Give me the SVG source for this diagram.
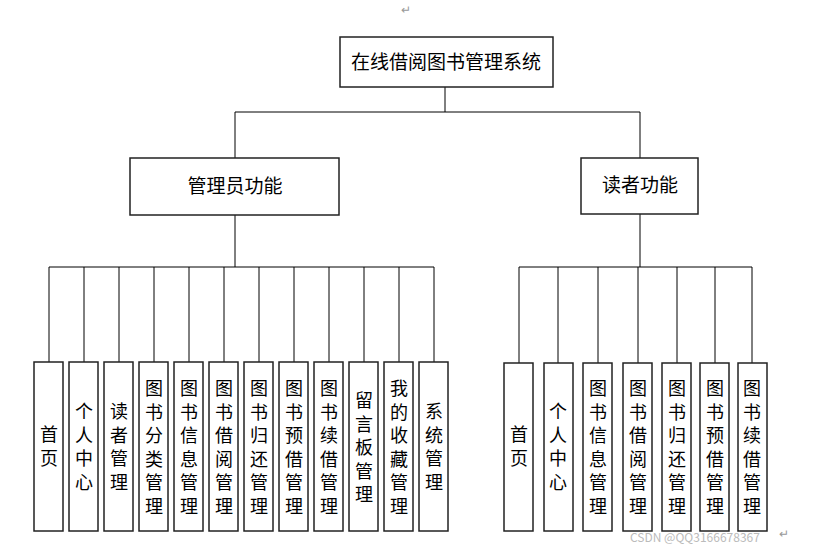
<svg xmlns="http://www.w3.org/2000/svg" width="815" height="553" viewBox="0 0 815 553">
<style>
rect{fill:#fff;stroke:#222;stroke-width:1.5}
text{font-family:"Noto Sans CJK SC","Liberation Sans",sans-serif;fill:#000}
.t{font-size:19px;text-anchor:middle}
.l{font-size:18px;text-anchor:middle}
.c path{stroke:#000;stroke-width:1;fill:none}
.w{font-size:12px;fill:#bbb}
</style>
<rect width="815" height="553" style="fill:#fff;stroke:none"/>
<text x="401" y="14" class="w" style="fill:#999">↵</text>
<g class="c" id="connectors">
<path d="M445 87V112M235 112H640M235 112V158M640 112V158"/>
<path d="M235 215V267M49 267H434M49 267V362M84 267V362M119 267V362M154 267V362M189 267V362M224 267V362M259 267V362M294 267V362M329 267V362M364 267V362M399 267V362M434 267V362"/>
<path d="M640 214V267M519 267H752M519 267V363M558 267V363M598 267V363M638 267V363M677 267V363M715 267V363M752 267V363"/>
</g>
<g id="root"><rect x="340" y="37" width="213" height="50"/><text class="t" x="446" y="69">在线借阅图书管理系统</text></g>
<g id="admin"><rect x="130" y="158" width="209" height="57"/><text class="t" x="235" y="193">管理员功能</text></g>
<g id="reader"><rect x="581" y="158" width="117" height="56"/><text class="t" x="640" y="192">读者功能</text></g>
<g id="a1"><rect x="34" y="362" width="29" height="169"/><text class="l" x="49" y="441"><tspan x="49">首</tspan><tspan x="49" dy="23.5">页</tspan></text></g>
<g id="a2"><rect x="69" y="362" width="29" height="169"/><text class="l" x="84" y="418"><tspan x="84">个</tspan><tspan x="84" dy="23.5">人</tspan><tspan x="84" dy="23.5">中</tspan><tspan x="84" dy="23.5">心</tspan></text></g>
<g id="a3"><rect x="104" y="362" width="29" height="169"/><text class="l" x="119" y="418"><tspan x="119">读</tspan><tspan x="119" dy="23.5">者</tspan><tspan x="119" dy="23.5">管</tspan><tspan x="119" dy="23.5">理</tspan></text></g>
<g id="a4"><rect x="139" y="362" width="29" height="169"/><text class="l" x="154" y="395"><tspan x="154">图</tspan><tspan x="154" dy="23.5">书</tspan><tspan x="154" dy="23.5">分</tspan><tspan x="154" dy="23.5">类</tspan><tspan x="154" dy="23.5">管</tspan><tspan x="154" dy="23.5">理</tspan></text></g>
<g id="a5"><rect x="174" y="362" width="29" height="169"/><text class="l" x="189" y="395"><tspan x="189">图</tspan><tspan x="189" dy="23.5">书</tspan><tspan x="189" dy="23.5">信</tspan><tspan x="189" dy="23.5">息</tspan><tspan x="189" dy="23.5">管</tspan><tspan x="189" dy="23.5">理</tspan></text></g>
<g id="a6"><rect x="209" y="362" width="29" height="169"/><text class="l" x="224" y="395"><tspan x="224">图</tspan><tspan x="224" dy="23.5">书</tspan><tspan x="224" dy="23.5">借</tspan><tspan x="224" dy="23.5">阅</tspan><tspan x="224" dy="23.5">管</tspan><tspan x="224" dy="23.5">理</tspan></text></g>
<g id="a7"><rect x="244" y="362" width="29" height="169"/><text class="l" x="259" y="395"><tspan x="259">图</tspan><tspan x="259" dy="23.5">书</tspan><tspan x="259" dy="23.5">归</tspan><tspan x="259" dy="23.5">还</tspan><tspan x="259" dy="23.5">管</tspan><tspan x="259" dy="23.5">理</tspan></text></g>
<g id="a8"><rect x="279" y="362" width="29" height="169"/><text class="l" x="294" y="395"><tspan x="294">图</tspan><tspan x="294" dy="23.5">书</tspan><tspan x="294" dy="23.5">预</tspan><tspan x="294" dy="23.5">借</tspan><tspan x="294" dy="23.5">管</tspan><tspan x="294" dy="23.5">理</tspan></text></g>
<g id="a9"><rect x="314" y="362" width="29" height="169"/><text class="l" x="329" y="395"><tspan x="329">图</tspan><tspan x="329" dy="23.5">书</tspan><tspan x="329" dy="23.5">续</tspan><tspan x="329" dy="23.5">借</tspan><tspan x="329" dy="23.5">管</tspan><tspan x="329" dy="23.5">理</tspan></text></g>
<g id="a10"><rect x="349" y="362" width="29" height="169"/><text class="l" x="364" y="407"><tspan x="364">留</tspan><tspan x="364" dy="23.5">言</tspan><tspan x="364" dy="23.5">板</tspan><tspan x="364" dy="23.5">管</tspan><tspan x="364" dy="23.5">理</tspan></text></g>
<g id="a11"><rect x="384" y="362" width="29" height="169"/><text class="l" x="399" y="395"><tspan x="399">我</tspan><tspan x="399" dy="23.5">的</tspan><tspan x="399" dy="23.5">收</tspan><tspan x="399" dy="23.5">藏</tspan><tspan x="399" dy="23.5">管</tspan><tspan x="399" dy="23.5">理</tspan></text></g>
<g id="a12"><rect x="419" y="362" width="29" height="169"/><text class="l" x="434" y="418"><tspan x="434">系</tspan><tspan x="434" dy="23.5">统</tspan><tspan x="434" dy="23.5">管</tspan><tspan x="434" dy="23.5">理</tspan></text></g>
<g id="r1"><rect x="504" y="363" width="29" height="168"/><text class="l" x="519" y="441"><tspan x="519">首</tspan><tspan x="519" dy="23.5">页</tspan></text></g>
<g id="r2"><rect x="544" y="363" width="29" height="168"/><text class="l" x="558" y="418"><tspan x="558">个</tspan><tspan x="558" dy="23.5">人</tspan><tspan x="558" dy="23.5">中</tspan><tspan x="558" dy="23.5">心</tspan></text></g>
<g id="r3"><rect x="583" y="363" width="29" height="168"/><text class="l" x="598" y="395"><tspan x="598">图</tspan><tspan x="598" dy="23.5">书</tspan><tspan x="598" dy="23.5">信</tspan><tspan x="598" dy="23.5">息</tspan><tspan x="598" dy="23.5">管</tspan><tspan x="598" dy="23.5">理</tspan></text></g>
<g id="r4"><rect x="623" y="363" width="29" height="168"/><text class="l" x="638" y="395"><tspan x="638">图</tspan><tspan x="638" dy="23.5">书</tspan><tspan x="638" dy="23.5">借</tspan><tspan x="638" dy="23.5">阅</tspan><tspan x="638" dy="23.5">管</tspan><tspan x="638" dy="23.5">理</tspan></text></g>
<g id="r5"><rect x="662" y="363" width="29" height="168"/><text class="l" x="677" y="395"><tspan x="677">图</tspan><tspan x="677" dy="23.5">书</tspan><tspan x="677" dy="23.5">归</tspan><tspan x="677" dy="23.5">还</tspan><tspan x="677" dy="23.5">管</tspan><tspan x="677" dy="23.5">理</tspan></text></g>
<g id="r6"><rect x="700" y="363" width="29" height="168"/><text class="l" x="715" y="395"><tspan x="715">图</tspan><tspan x="715" dy="23.5">书</tspan><tspan x="715" dy="23.5">预</tspan><tspan x="715" dy="23.5">借</tspan><tspan x="715" dy="23.5">管</tspan><tspan x="715" dy="23.5">理</tspan></text></g>
<g id="r7"><rect x="738" y="363" width="29" height="168"/><text class="l" x="752" y="395"><tspan x="752">图</tspan><tspan x="752" dy="23.5">书</tspan><tspan x="752" dy="23.5">续</tspan><tspan x="752" dy="23.5">借</tspan><tspan x="752" dy="23.5">管</tspan><tspan x="752" dy="23.5">理</tspan></text></g>
<text class="w" x="630" y="542">CSDN @QQ3166678367</text>
<text class="w" x="779" y="538" style="fill:#999">↵</text>
</svg>
